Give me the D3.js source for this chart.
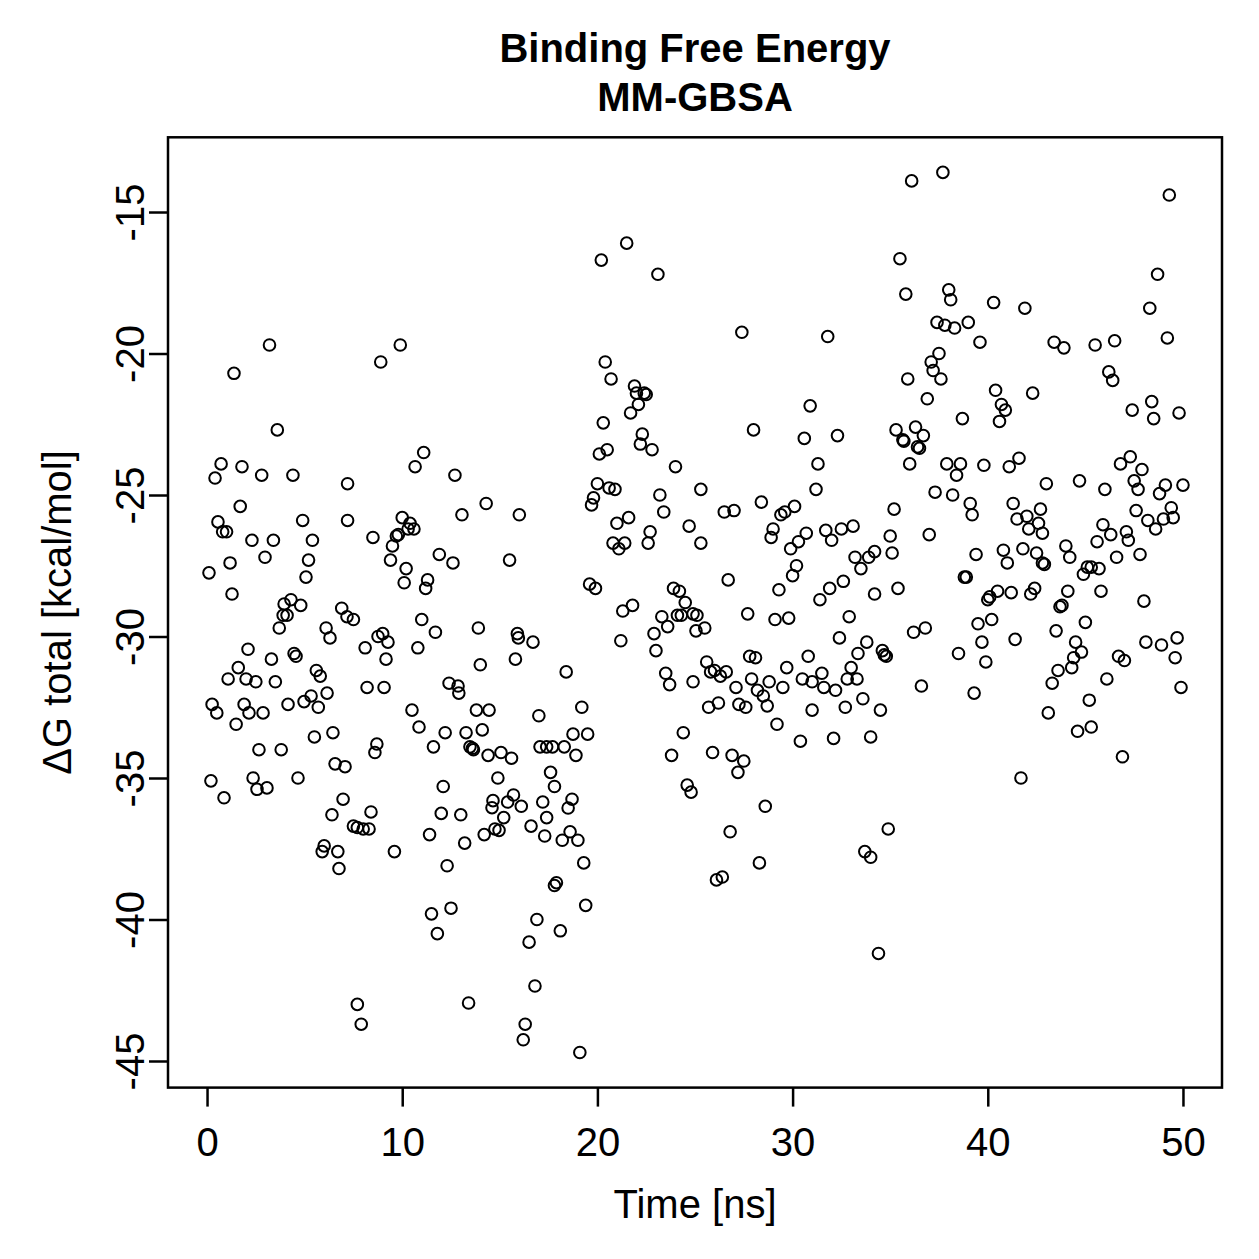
<!DOCTYPE html>
<html><head><meta charset="utf-8">
<script src="https://cdn.jsdelivr.net/npm/d3@7"></script>
<style>body{margin:0;background:#fff}</style>
</head><body>
<svg id="chart" width="1259" height="1259"></svg>
<script>
// ---- text & axes ----
const titleLines = ["Binding Free Energy", "MM-GBSA"];
const xLabel = "Time [ns]";
const yLabel = "\u0394G total [kcal/mol]";
const xTicks = [0, 10, 20, 30, 40, 50];
const yTicks = [-45, -40, -35, -30, -25, -20, -15];
const xLimits = [-2, 52];
const yLimits = [-45.94, -12.36];

// ---- data (time in ns, dG in kcal/mol) ----
const seg01Time = [3.2,1.38,3.6,0.72,0.41,1.79,2.8,4.4,7.2,1.7,0.56,0.8,1.0,2.3,3.4,4.9,5.4,7.2,1.18,2.97,5.2,0.1,5.07,1.28,3.95,4.3,4.8,6.9];
const seg01DG   = [-19.7,-20.7,-22.7,-23.9,-24.4,-24.0,-24.3,-24.3,-24.6,-25.4,-25.95,-26.3,-26.3,-26.6,-26.6,-25.9,-26.6,-25.9,-27.4,-27.2,-27.3,-27.75,-27.9,-28.5,-28.85,-28.7,-28.9,-29.0];

const seg02Time = [3.9,4.1,7.17,3.7,6.1,6.3,2.1,3.3,4.46,4.56,1.6,1.08,2.0,2.5,3.5,5.6,5.8,6.15,0.26,0.5,1.9,2.15,2.87,4.15,4.97,5.33,5.7,1.49,6.45,5.5,2.66,3.8,6.56,7.07,0.2,0.87,2.36,2.56,3.07,4.66,6.97,6.4,6.0,5.9,6.7,6.76];
const seg02DG   = [-29.25,-29.25,-29.3,-29.7,-29.7,-30.05,-30.45,-30.8,-30.6,-30.7,-31.1,-31.5,-31.5,-31.6,-31.6,-31.2,-31.4,-32.0,-32.4,-32.7,-32.4,-32.7,-32.7,-32.4,-32.3,-32.1,-32.5,-33.1,-33.4,-33.55,-34.0,-34.0,-34.5,-34.6,-35.1,-35.7,-35.0,-35.4,-35.35,-35.0,-35.75,-36.3,-37.4,-37.6,-37.6,-38.2];

const seg03Time = [9.9,8.9,11.1,10.66,12.7,8.5,10.0,10.4,10.6,10.3,9.7,9.8,9.5,9.4,13.06,14.3,16.0,11.9,12.6,15.5,10.2,10.1,11.3,11.2];
const seg03DG   = [-19.7,-20.3,-23.5,-24.0,-24.3,-26.5,-25.8,-26.0,-26.2,-26.2,-26.45,-26.4,-26.8,-27.3,-25.7,-25.3,-25.7,-27.1,-27.4,-27.3,-27.6,-28.1,-28.0,-28.3];

const seg04Time = [7.5,11.0,11.7,13.9,15.9,15.95,8.76,9.0,9.27,8.1,10.8,9.17,14.0,15.8,8.2,9.07,12.4,12.86,12.9,10.5,13.8,14.45,10.86,12.2,13.27,14.1,11.6,13.47,13.6,13.65,14.4,15.06,15.6,8.7,8.6,14.9,12.1,8.4,12.0,13.0,14.65,15.7,15.4,14.6,15.2,16.1,7.5,7.7,8.0,8.3,14.75,14.96,14.2,11.4,13.2,9.6,12.3,12.5,11.5,11.8,7.7,7.9,13.4,16.3,16.2];
const seg04DG   = [-29.4,-29.4,-29.85,-29.7,-29.9,-30.05,-30.0,-29.9,-30.2,-30.4,-30.4,-30.8,-31.0,-30.8,-31.8,-31.8,-31.65,-31.75,-32.0,-32.6,-32.6,-32.6,-33.2,-33.4,-33.4,-33.3,-33.9,-33.9,-33.95,-34.0,-34.2,-34.1,-34.3,-33.8,-34.1,-35.0,-35.3,-36.2,-36.25,-36.3,-35.8,-35.6,-35.85,-36.05,-36.4,-36.0,-36.7,-36.75,-36.8,-36.8,-36.8,-36.85,-37.0,-37.0,-37.3,-37.6,-38.1,-39.6,-39.8,-40.5,-43.0,-43.7,-42.95,-43.7,-44.25];

const seg05Time = [21.5,20.2,23.1,20.4,20.7,21.9,22.0,22.4,22.5,22.1,21.7,20.3,22.3,22.2,22.8,20.5,20.1,24.0,20.0,20.6,20.9,25.3,19.8,19.7,23.2,23.4,21.6,21.0,24.7,22.7,22.6,20.8,21.1,21.4,25.3,19.6,19.9,23.9,24.2,24.5,21.8,21.3];
const seg05DG   = [-16.1,-16.7,-17.2,-20.3,-20.9,-21.15,-21.4,-21.4,-21.45,-21.8,-22.1,-22.45,-22.85,-23.2,-23.4,-23.4,-23.55,-24.0,-24.6,-24.75,-24.8,-24.8,-25.1,-25.35,-25.0,-25.6,-25.8,-26.0,-26.1,-26.3,-26.7,-26.7,-26.9,-26.7,-26.7,-28.15,-28.3,-28.3,-28.4,-28.8,-28.9,-29.1];

const seg06Time = [23.3,23.6,24.1,24.3,24.9,25.1,25.05,16.7,21.2,22.9,23.0,18.4,23.5,23.7,24.9,19.2,17.0,24.4,23.8,24.6,24.8,18.75,19.5,17.06,17.4,17.7,18.3,18.9,17.6,17.8,17.2,17.4,16.6,17.3,18.7,18.5,18.6,18.2,19.0,19.3,17.9,17.8,19.4,16.9,18.1,16.5,16.8,19.1];
const seg06DG   = [-29.3,-29.65,-29.25,-29.25,-29.2,-29.25,-29.8,-30.2,-30.15,-29.9,-30.5,-31.25,-31.3,-31.7,-31.6,-32.5,-32.8,-33.4,-34.2,-35.25,-35.5,-33.45,-33.45,-33.9,-33.9,-33.9,-33.9,-34.2,-34.8,-35.3,-35.85,-36.4,-36.7,-37.05,-35.75,-36.06,-36.9,-37.2,-37.2,-38.0,-38.7,-38.8,-39.5,-40.0,-40.4,-40.8,-42.35,-44.7];

const seg07Time = [27.4,31.8,30.9,28.0,30.6,32.3,31.3,31.2,28.4,26.5,27.0,30.1,29.6,29.4,29.0,28.9,30.7,30.3,29.9,31.7,32.0,32.5,33.1,33.2,33.9,33.5,34.2,30.2,30.0,26.7,32.6,31.9,31.4,29.3,34.2];
const seg07DG   = [-19.25,-19.4,-21.85,-22.7,-23.0,-22.9,-23.9,-24.8,-25.25,-25.6,-25.55,-25.4,-25.6,-25.7,-26.2,-26.5,-26.35,-26.65,-26.9,-26.25,-26.6,-26.2,-26.1,-27.2,-27.2,-27.6,-27.0,-27.5,-27.85,-28.0,-28.05,-28.3,-28.7,-28.35,-28.5];

const seg08Time = [27.7,29.1,29.8,32.9,25.5,32.4,33.8,33.35,27.8,28.1,30.8,25.6,25.8,26.0,26.3,26.6,27.1,27.9,28.2,28.5,28.8,29.5,29.7,30.5,31.0,31.5,31.6,32.2,33.0,32.8,33.3,33.6,25.7,26.2,27.25,27.6,28.7,31.0,32.7,29.2,30.4,32.1,34.0,25.9,26.9,27.5,27.2,28.6,26.8,28.3,26.1,26.4,33.7,34.0,34.4];
const seg08DG   = [-29.2,-29.4,-29.35,-29.3,-29.7,-30.05,-30.2,-30.6,-30.7,-30.75,-30.7,-30.9,-31.25,-31.2,-31.4,-31.25,-31.8,-31.5,-31.9,-32.1,-31.6,-31.8,-31.1,-31.5,-31.6,-31.3,-31.8,-31.9,-31.1,-31.5,-31.5,-32.2,-32.5,-32.35,-32.4,-32.5,-32.45,-32.6,-32.5,-33.1,-33.7,-33.6,-33.55,-34.1,-34.2,-34.4,-34.8,-36.0,-36.9,-38.0,-38.6,-38.5,-37.6,-37.8,-41.2];

const seg09Time = [37.7,36.1,35.5,35.8,38.0,38.1,40.3,41.9,37.4,37.8,38.3,39.0,39.6,37.5,37.1,37.2,37.6,35.9,36.9,40.4,40.7,40.9,40.6,42.3,38.7,35.3,35.65,35.7,36.3,36.7,36.4,36.5,36.0,37.9,38.6,38.4,39.8,41.1,41.6,43.0,37.3,38.2,39.1,39.2,35.2,41.3,41.5,42.0,42.1,42.7,42.6,42.8,35.0,35.1,37.0,39.4,40.8,41.0,41.8,42.5,42.8,42.9,38.8,38.9,35.4,40.0,40.1,40.5,41.2,42.4,42.2];
const seg09DG   = [-13.6,-13.9,-16.65,-17.9,-17.75,-18.1,-18.2,-18.4,-18.9,-19.0,-19.1,-18.9,-19.6,-20.0,-20.3,-20.6,-20.9,-20.9,-21.6,-21.3,-21.8,-22.0,-22.4,-21.4,-22.3,-22.7,-23.05,-23.1,-22.6,-22.9,-23.3,-23.35,-23.9,-23.9,-23.9,-24.3,-23.95,-24.0,-23.7,-24.6,-24.9,-25.0,-25.3,-25.7,-25.5,-25.3,-25.85,-25.75,-26.2,-25.5,-26.0,-26.35,-26.45,-27.05,-26.4,-27.1,-26.95,-27.4,-26.9,-27.05,-27.4,-27.45,-27.9,-27.9,-28.3,-28.7,-28.6,-28.4,-28.45,-28.3,-28.5];

const seg10Time = [36.2,36.8,39.5,40.2,39.7,39.9,38.5,41.4,34.6,34.7,34.8,36.6,39.3,43.1,34.5,41.7,34.9];
const seg10DG   = [-29.85,-29.7,-29.55,-29.4,-30.2,-30.9,-30.6,-30.1,-30.5,-30.65,-30.7,-31.75,-32.0,-32.7,-32.6,-35.0,-36.8];

const seg11Time = [49.3,48.7,48.3,49.2,43.4,43.9,45.5,46.5,46.2,46.4,47.4,48.4,48.5,49.8,47.3,46.8,47.9,44.7,46.0,47.5,47.7,49.1,48.8,50.0,47.6,48.2,48.6,49.0,49.4,49.5,45.9,46.3,45.6,47.1,47.2,44.0,44.2,46.6,47.8,45.1,44.9,45.3,45.7,44.1,45.8,48.0,43.7,43.8];
const seg11DG   = [-14.4,-17.2,-18.4,-19.45,-19.6,-19.8,-19.7,-19.55,-20.65,-20.95,-22.0,-21.7,-22.3,-22.1,-23.65,-23.9,-24.1,-24.5,-24.8,-24.5,-24.8,-24.65,-24.95,-24.65,-25.55,-25.9,-26.2,-25.85,-25.45,-25.8,-26.05,-26.4,-26.65,-26.3,-26.6,-26.8,-27.2,-27.2,-27.1,-27.55,-27.8,-27.55,-27.6,-28.4,-28.4,-28.75,-28.95,-28.9];

const seg12Time = [45.0,43.5,44.5,44.8,44.4,44.3,43.6,43.3,48.1,48.9,49.7,49.6,46.7,47.0,46.1,49.9,45.2,44.6,45.3,46.9];
const seg12DG   = [-29.5,-29.8,-30.2,-30.55,-30.75,-31.1,-31.2,-31.65,-30.2,-30.3,-30.05,-30.75,-30.7,-30.85,-31.5,-31.8,-32.25,-33.35,-33.2,-34.25];

const timeSegments = [seg01Time,seg02Time,seg03Time,seg04Time,seg05Time,seg06Time,seg07Time,seg08Time,seg09Time,seg10Time,seg11Time,seg12Time];
const dgSegments   = [seg01DG,seg02DG,seg03DG,seg04DG,seg05DG,seg06DG,seg07DG,seg08DG,seg09DG,seg10DG,seg11DG,seg12DG];

const points = [];
timeSegments.forEach((ts, i) => {
  const vs = dgSegments[i];
  const n = Math.min(ts.length, vs.length);
  for (let k = 0; k < n; k++) points.push({t: ts[k], g: vs[k]});
});

// ---- layout ----
const W = 1259, H = 1259;
const plot = {left: 168, right: 1222, top: 137.3, bottom: 1087.6};
const FONT = "'Liberation Sans', Arial, Helvetica, sans-serif";

const svg = d3.select("#chart").attr("width", W).attr("height", H);
svg.append("rect").attr("width", W).attr("height", H).attr("fill", "#fff");

const x = d3.scaleLinear().domain(xLimits).range([plot.left, plot.right]);
const y = d3.scaleLinear().domain(yLimits).range([plot.bottom, plot.top]);

// points
svg.append("g").selectAll("circle").data(points).join("circle")
  .attr("cx", d => x(d.t)).attr("cy", d => y(d.g)).attr("r", 5.8)
  .attr("fill", "none").attr("stroke", "#000").attr("stroke-width", 2);

// axes
const xAxis = svg.append("g").attr("transform", `translate(0,${plot.bottom})`)
  .call(d3.axisBottom(x).tickValues(xTicks).tickSize(19).tickFormat(d => String(d)));
xAxis.select(".domain").remove();
xAxis.selectAll("line").attr("stroke", "#000").attr("stroke-width", 2.5);
xAxis.selectAll("text").attr("y", 68).attr("dy", 0)
  .attr("font-family", FONT).attr("font-size", 40).attr("fill", "#000");

const yAxis = svg.append("g").attr("transform", `translate(${plot.left},0)`)
  .call(d3.axisLeft(y).tickValues(yTicks).tickSize(19).tickFormat(d => String(d)));
yAxis.select(".domain").remove();
yAxis.selectAll("line").attr("stroke", "#000").attr("stroke-width", 2.5);
yAxis.selectAll("text").attr("transform", "rotate(-90)")
  .attr("x", 0).attr("y", -24).attr("dy", 0).attr("text-anchor", "middle")
  .attr("font-family", FONT).attr("font-size", 40).attr("fill", "#000");

// box
svg.append("rect").attr("x", plot.left).attr("y", plot.top)
  .attr("width", plot.right - plot.left).attr("height", plot.bottom - plot.top)
  .attr("fill", "none").attr("stroke", "#000").attr("stroke-width", 2.5);

// labels
svg.append("text").attr("x", (plot.left + plot.right) / 2).attr("y", 1218)
  .attr("text-anchor", "middle").attr("font-family", FONT).attr("font-size", 40)
  .text(xLabel);
svg.append("text")
  .attr("transform", `translate(71,${(plot.top + plot.bottom) / 2}) rotate(-90)`)
  .attr("text-anchor", "middle").attr("font-family", FONT).attr("font-size", 40)
  .text(yLabel);

// title
titleLines.forEach((s, i) => {
  svg.append("text").attr("x", (plot.left + plot.right) / 2).attr("y", 62 + i * 49)
    .attr("text-anchor", "middle").attr("font-family", FONT).attr("font-size", 40)
    .attr("font-weight", "bold").text(s);
});
</script>
</body></html>
